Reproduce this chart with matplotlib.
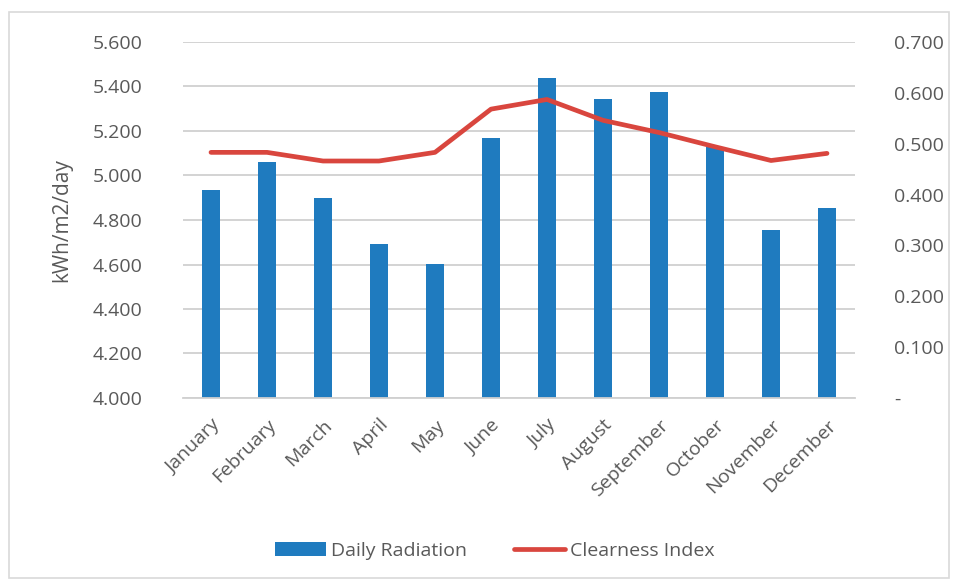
import matplotlib
matplotlib.use("Agg")
import matplotlib.pyplot as plt
from matplotlib.patches import Rectangle
from matplotlib.ticker import FuncFormatter, FixedLocator
import numpy as np

months = ["January", "February", "March", "April", "May", "June", "July",
          "August", "September", "October", "November", "December"]
daily_radiation = [4.933, 5.061, 4.900, 4.694, 4.601, 5.170, 5.440,
                   5.342, 5.377, 5.127, 4.755, 4.853]
clearness_index = [0.483, 0.483, 0.466, 0.466, 0.483, 0.568, 0.587,
                   0.546, 0.522, 0.494, 0.467, 0.481]
left_ticks = [4.0, 4.2, 4.4, 4.6, 4.8, 5.0, 5.2, 5.4, 5.6]
right_ticks = [0.0, 0.1, 0.2, 0.3, 0.4, 0.5, 0.6, 0.7]

plt.rcParams['font.family'] = ['Open Sans', 'DejaVu Sans']
txt = '#595959'
bar_c = '#1f7bbf'
line_c = '#d9463e'
fs = 14

fig = plt.figure(figsize=(9.57, 5.83), dpi=100)
fig.patches.append(Rectangle((9/957, 1-578/583), 940/957, 566/583,
                             transform=fig.transFigure, fill=False,
                             edgecolor='#d9d9d9', linewidth=1.2))
ax = fig.add_axes([183/957, 1-398/583, 672/957, 356/583])
x = np.arange(len(months))
ax.bar(x, daily_radiation, width=0.32, color=bar_c, zorder=2, label='Daily Radiation')
ax.set_ylim(4.0, 5.6)
ax.set_xlim(-0.5, 11.5)
ax.yaxis.set_major_locator(FixedLocator(left_ticks))
ax.yaxis.set_major_formatter(FuncFormatter(lambda v, p: f"{v:.3f}"))
ax.grid(axis='y', color='#d0d0d0', linewidth=1.3, zorder=0)
ax.set_axisbelow(True)
for s in ['top', 'right', 'left']:
    ax.spines[s].set_visible(False)
ax.spines['bottom'].set_color('#d0d0d0')
ax.spines['bottom'].set_linewidth(1.3)
ax.tick_params(axis='y', length=0, pad=29, labelsize=fs, labelcolor=txt)
ax.tick_params(axis='x', length=0, pad=13, labelsize=fs, labelcolor=txt)
ax.set_xticks(x)
ax.set_xticklabels(months, rotation=45, ha='right', rotation_mode='anchor')
ax.set_ylabel('kWh/m2/day', fontsize=15, color=txt, labelpad=15)

ax2 = ax.twinx()
ax2.plot(x, clearness_index, color=line_c, linewidth=3.4, solid_capstyle='round',
         zorder=3, label='Clearness Index')
ax2.set_ylim(0, 0.7)
ax2.yaxis.set_major_locator(FixedLocator(right_ticks))
ax2.yaxis.set_major_formatter(FuncFormatter(lambda v, p: "-" if abs(v) < 1e-9 else f"{v:.3f}"))
for s in ['top', 'right', 'left', 'bottom']:
    ax2.spines[s].set_visible(False)
ax2.tick_params(axis='y', length=0, pad=28, labelsize=fs, labelcolor=txt)

h1, l1 = ax.get_legend_handles_labels()
h2, l2 = ax2.get_legend_handles_labels()
fig.legend(h1 + h2, l1 + l2, loc='center', bbox_to_anchor=(495/957, 1-551/583),
           ncol=2, frameon=False, fontsize=fs, labelcolor=txt,
           handlelength=2.6, handleheight=0.7, columnspacing=2.4, handletextpad=0.3)

fig.savefig('out.png', dpi=100)
